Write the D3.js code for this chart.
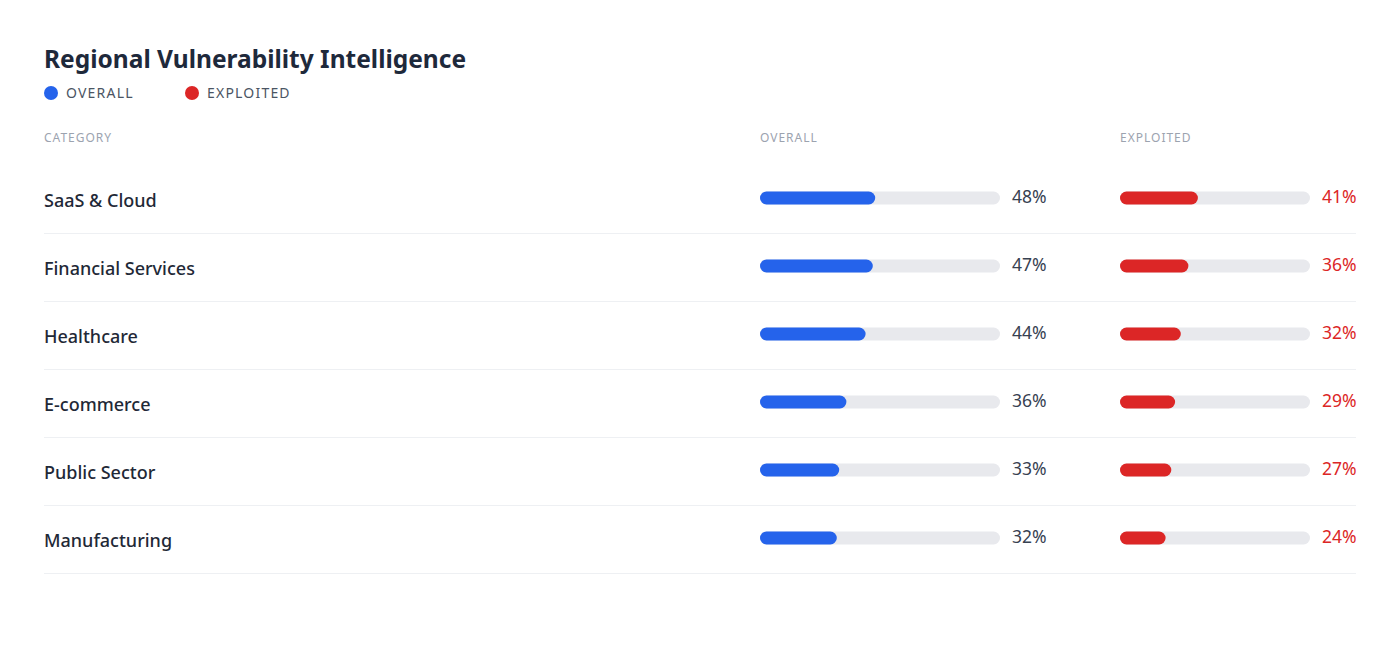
<!DOCTYPE html>
<html>
<head>
<meta charset="utf-8">
<script src="https://cdn.jsdelivr.net/npm/d3@7"></script>
<style>
  body { margin: 0; background: #fff; }
  text { font-family: "Noto Sans", "Open Sans", sans-serif; }
</style>
</head>
<body>
<svg id="chart" width="1400" height="660"></svg>
<script>
// data
var categories = ['SaaS & Cloud', 'Financial Services', 'Healthcare', 'E-commerce', 'Public Sector', 'Manufacturing'];
var overall = [48, 47, 44, 36, 33, 32];
var exploited = [41, 36, 32, 29, 27, 24];
var seriesNames = ['OVERALL', 'EXPLOITED'];
var colors = ['#2563eb', '#dc2626'];

var svg = d3.select('#chart');

// title
svg.append('text')
  .attr('x', 44).attr('y', 68)
  .attr('font-size', 24.5).attr('font-weight', 700)
  .attr('fill', '#1e293b')
  .text('Regional Vulnerability Intelligence');

// legend
var legendX = [44, 185];
seriesNames.forEach(function (name, i) {
  var g = svg.append('g').attr('transform', 'translate(' + legendX[i] + ',93)');
  g.append('circle').attr('cx', 7).attr('cy', 0).attr('r', 7).attr('fill', colors[i]);
  g.append('text').attr('x', 22).attr('y', 5)
    .attr('font-size', 14).attr('letter-spacing', 1.2)
    .attr('fill', '#4b5563').text(name);
});

// columns
var overallX = d3.scaleLinear().domain([0, 100]).range([760, 1000]);
var exploitedX = d3.scaleLinear().domain([0, 100]).range([1120, 1310]);
var rowY = d3.scaleBand().domain(categories).range([166, 574]);

// headers
[['CATEGORY', 44], ['OVERALL', 760], ['EXPLOITED', 1120]].forEach(function (h) {
  svg.append('text').attr('x', h[1]).attr('y', 142)
    .attr('font-size', 12).attr('letter-spacing', 1)
    .attr('fill', '#9ca3af').text(h[0]);
});

var rows = svg.selectAll('g.row')
  .data(categories)
  .enter().append('g')
  .attr('class', 'row')
  .attr('transform', function (d) { return 'translate(0,' + rowY(d) + ')'; });

var bh = rowY.bandwidth();

rows.append('line')
  .attr('x1', 44).attr('x2', 1356)
  .attr('y1', bh - 0.5).attr('y2', bh - 0.5)
  .attr('stroke', '#eef0f3').attr('stroke-width', 1);

rows.append('text')
  .attr('x', 44).attr('y', 41)
  .attr('font-size', 18).attr('font-weight', 500)
  .attr('fill', '#1f2937')
  .text(function (d) { return d; });

function drawBars(scale, values, color, valueColor) {
  var h = 13, y = 32 - h / 2;
  rows.append('rect')
    .attr('x', scale(0)).attr('y', y)
    .attr('width', scale(100) - scale(0)).attr('height', h)
    .attr('rx', h / 2).attr('fill', '#e8e9ed');
  rows.append('rect')
    .attr('x', scale(0)).attr('y', y)
    .attr('width', function (d, i) { return scale(values[i]) - scale(0); })
    .attr('height', h)
    .attr('rx', h / 2).attr('fill', color);
  rows.append('text')
    .attr('x', scale(100) + 12).attr('y', 37)
    .attr('font-size', 17.5)
    .attr('fill', valueColor)
    .text(function (d, i) { return values[i] + '%'; });
}

drawBars(overallX, overall, colors[0], '#374151');
drawBars(exploitedX, exploited, colors[1], '#dc2626');
</script>
</body>
</html>
